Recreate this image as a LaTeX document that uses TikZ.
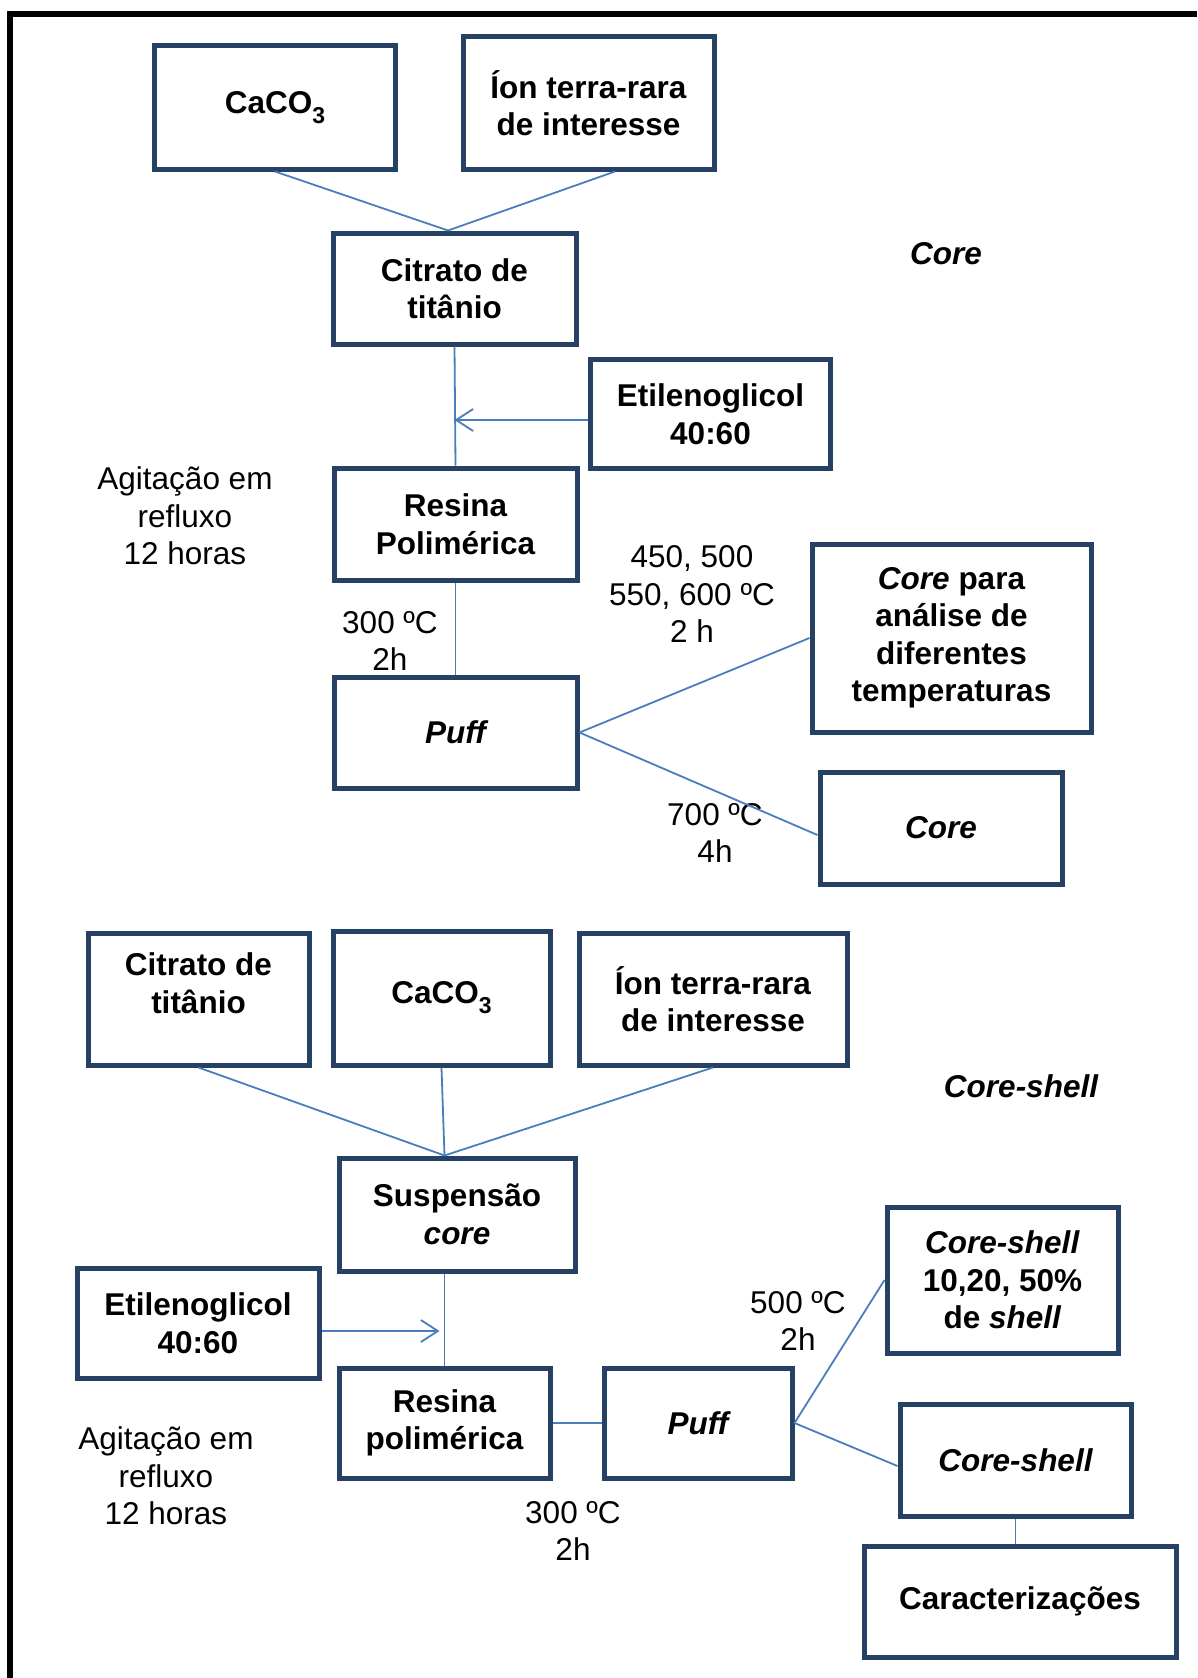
\documentclass[tikz,border=0pt]{standalone}
\usepackage{fontspec}
\setmainfont{Liberation Sans}
\usetikzlibrary{arrows.meta}
\definecolor{boxcol}{RGB}{39,65,100}
\definecolor{linecol}{RGB}{74,126,187}
\tikzset{
  every node/.style={font=\fontsize{31.5}{37.5}\selectfont, align=center, inner sep=0pt},
  procbox/.style={draw=boxcol, line width=5pt, rectangle, font=\fontsize{31.5}{37.5}\selectfont\bfseries},
  conn/.style={draw=linecol, line width=1.8pt},
  feed/.style={conn, -{Straight Barb[length=17pt,width=22pt]}},
}
\newcommand{\bx}[5]{\node[procbox, minimum width=#3pt, minimum height=#4pt] (#1) at (#2) {#5};}
\newcommand{\subthree}{\raisebox{-10pt}{\fontsize{23}{23}\selectfont 3}}
\begin{document}
\begin{tikzpicture}[x=1pt, y=-1pt]
\useasboundingbox (0,0) rectangle (1197,1678);
% outer frame (left and top edges)
\draw[line width=6pt] (10,1678) -- (10,14) -- (1197,14);

% ---- core synthesis ----
\bx{caco1}{275,107.5}{241}{123}{CaCO\subthree}
\bx{ion1}{588.5,103}{251}{132}{Íon terra-rara\\de interesse}
\bx{cit1}{454.5,288.5}{243}{111}{Citrato de\\titânio}
\bx{etil1}{710.5,414}{240}{109}{Etilenoglicol\\40:60}
\bx{res1}{455.5,524}{243}{112}{Resina\\Polimérica}
\bx{puff1}{455.5,732.5}{243}{111}{\itshape Puff}
\bx{corep}{951.5,638}{279}{188}{\textit{Core} para\\análise de\\diferentes\\temperaturas}
\bx{core1}{941,828}{242}{112}{\itshape Core}

\node[font=\fontsize{31.5}{37.5}\selectfont\bfseries\itshape] (tcore) at (946,254) {Core};
\node (agit1) at (185,516) {Agitação em\\refluxo\\12 horas};
\node (t300a) at (390,641) {300 ºC\\2h};
\node (t450) at (692,594) {450, 500\\550, 600 ºC\\2 h};
\node (t700) at (715,833) {700 ºC\\4h};

\draw[conn] (caco1.south) -- ([xshift=-6.5pt]cit1.north);
\draw[conn] ([xshift=26.5pt]ion1.south) -- ([xshift=-6.5pt]cit1.north);
\draw[conn] (cit1.south) -- (res1.north);
\draw[feed] ([yshift=-6pt]etil1.west) -- ([yshift=-6pt]etil1.west -| cit1.south);
\draw[conn] (res1.south) -- (puff1.north);
\draw[conn] (puff1.east) -- (corep.west);
\draw[conn] (puff1.east) -- ([yshift=-7pt]core1.west);

% ---- core-shell synthesis ----
\node[procbox, minimum width=221pt, minimum height=132pt,
  label={[yshift=16pt, font=\fontsize{31.5}{37.5}\selectfont\bfseries]center:Citrato de\\titânio}] (cit2) at (198.5,999) {};
\bx{caco2}{441.5,998}{217}{134}{CaCO\subthree}
\bx{ion2}{713,999}{268}{132}{Íon terra-rara\\de interesse}
\bx{susp}{457,1214.5}{236}{113}{Suspensão\\\textit{core}}
\bx{etil2}{198,1323}{242}{110}{Etilenoglicol\\40:60}
\bx{res2}{444.5,1423}{211}{110}{Resina\\polimérica}
\bx{puff2}{698,1423}{188}{110}{\itshape Puff}
\bx{cs1}{1002.5,1280}{231}{146}{\textit{Core-shell}\\10,20, 50\%\\de \textit{shell}}
\bx{cs2}{1015.5,1460}{231}{112}{\itshape Core-shell}
\bx{car}{1020,1601.5}{312}{111}{Caracterizações}

\node[font=\fontsize{31.5}{37.5}\selectfont\bfseries\itshape] (tcs) at (1021,1086) {Core-shell};
\node (agit2) at (166,1476) {Agitação em\\refluxo\\12 horas};
\node (t500) at (798,1321) {500 ºC\\2h};
\node (t300b) at (573,1531) {300 ºC\\2h};

\coordinate (join) at (susp.north -| res2.north);
\draw[conn] (cit2.south) -- (join);
\draw[conn] (caco2.south) -- (join);
\draw[conn] (ion2.south) -- (join);
\draw[conn] (susp.south -| res2.north) -- (res2.north);
\draw[feed] ([yshift=-8pt]etil2.east) -- ([yshift=-8pt, xshift=-5pt]etil2.east -| res2.north);
\draw[conn] (res2.east) -- (puff2.west);
\draw[conn] (puff2.east) -- (cs1.west);
\draw[conn] (puff2.east) -- ([yshift=-6pt]cs2.west);
\draw[conn] (cs2.south) -- (cs2.south |- car.north);
\end{tikzpicture}
\end{document}
